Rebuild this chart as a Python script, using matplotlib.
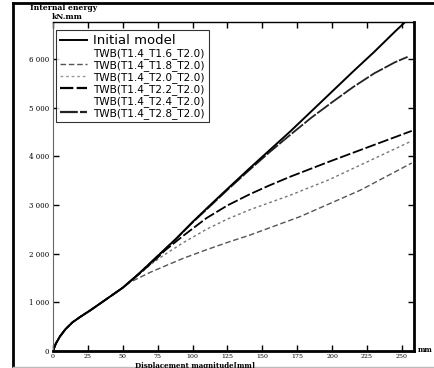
import matplotlib
matplotlib.use("Agg")
import matplotlib.pyplot as plt
from matplotlib.lines import Line2D

# ---- data ----
x_init = [0, 2, 5, 9, 14, 20, 27, 38, 50, 62, 75, 88, 100, 112, 125, 140, 155, 170, 185, 200, 215, 230, 245, 255]
y_init = [0, 150, 300, 450, 590, 710, 840, 1060, 1300, 1600, 1950, 2300, 2650, 2980, 3330, 3730, 4120, 4510, 4920, 5330, 5740, 6140, 6560, 6830]

x_t28 = [0, 2, 5, 9, 14, 20, 27, 38, 50, 62, 75, 88, 100, 112, 125, 140, 155, 170, 185, 200, 215, 230, 245, 254]
y_t28 = [0, 150, 300, 450, 590, 710, 840, 1060, 1300, 1600, 1950, 2300, 2640, 2960, 3310, 3700, 4080, 4440, 4790, 5110, 5420, 5700, 5930, 6040]

x_t22 = [0, 2, 5, 9, 14, 20, 27, 38, 50, 62, 75, 80, 93, 110, 125, 141, 155, 170, 198, 227, 257]
y_t22 = [0, 150, 300, 450, 590, 710, 840, 1060, 1300, 1590, 1920, 2060, 2360, 2730, 2990, 3220, 3400, 3580, 3890, 4200, 4520]

x_t20 = [0, 2, 5, 9, 14, 20, 27, 38, 50, 62, 70, 80, 93, 110, 125, 141, 170, 198, 227, 256]
y_t20 = [0, 150, 300, 450, 590, 710, 840, 1060, 1300, 1580, 1780, 1980, 2220, 2500, 2710, 2900, 3200, 3520, 3910, 4300]

x_t18 = [0, 2, 5, 9, 14, 20, 27, 38, 50, 55, 70, 93, 110, 125, 141, 177, 220, 257]
y_t18 = [0, 150, 300, 450, 590, 710, 840, 1060, 1300, 1410, 1620, 1900, 2080, 2230, 2380, 2760, 3300, 3860]

x_ticks = [0, 25, 50, 75, 100, 125, 150, 175, 200, 225, 250]
y_ticks = [0, 1000, 2000, 3000, 4000, 5000, 6000]
y_tick_labels = ["0", "1 000", "2 000", "3 000", "4 000", "5 000", "6 000"]

labels = ["Initial model", "TWB(T1.4_T1.6_T2.0)", "TWB(T1.4_T1.8_T2.0)",
          "TWB(T1.4_T2.0_T2.0)", "TWB(T1.4_T2.2_T2.0)", "TWB(T1.4_T2.4_T2.0)",
          "TWB(T1.4_T2.8_T2.0)"]

fig = plt.figure(figsize=(4.35, 3.68), dpi=100)
ax = fig.add_axes([53/435, 17/368, 361/435, 329/368])

ax.plot(x_t18, y_t18, color="#555555", lw=1.0, ls=(0, (4, 2)))
ax.plot(x_t20, y_t20, color="#777777", lw=1.0, ls=(0, (2, 2)))
ax.plot(x_t22, y_t22, color="black", lw=1.3, ls=(0, (6, 1.5)))
ax.plot(x_t28, y_t28, color="#222222", lw=1.3, ls=(0, (8, 1)))
ax.plot(x_init, y_init, color="black", lw=1.4)

ax.set_xlim(0, 258.6)
ax.set_ylim(0, 6756)
ax.set_xticks(x_ticks)
ax.set_xticklabels([str(v) for v in x_ticks], fontsize=4.5, family="DejaVu Serif")
ax.set_yticks(y_ticks)
ax.set_yticklabels(y_tick_labels, fontsize=5, family="DejaVu Serif")
ax.tick_params(axis="both", direction="in", length=4, width=1, pad=3,
               top=True, right=True)
ax.tick_params(axis="x", pad=2)

for side, lw, col in [("left", 0.8, "#666666"), ("right", 2.0, "black"),
                      ("bottom", 2.0, "black"), ("top", 1.0, "black")]:
    ax.spines[side].set_linewidth(lw)
    ax.spines[side].set_color(col)

handles = [
    Line2D([], [], color="black", lw=1.4),
    Line2D([], [], color="white", lw=1.0),
    Line2D([], [], color="#555555", lw=1.0, ls=(0, (4, 2))),
    Line2D([], [], color="#999999", lw=1.0, ls=(0, (2, 2))),
    Line2D([], [], color="black", lw=1.6, ls=(0, (6, 1.5))),
    Line2D([], [], color="white", lw=1.0),
    Line2D([], [], color="#222222", lw=1.6, ls=(0, (8, 1))),
]
leg = ax.legend(handles, labels, loc="upper left", bbox_to_anchor=(0.008, 0.975),
                fontsize=7.6, frameon=True, fancybox=False, handlelength=2.6,
                handletextpad=0.6, borderpad=0.35, labelspacing=0.1,
                borderaxespad=0.0)
leg.get_frame().set_edgecolor("black")
leg.get_frame().set_linewidth(0.8)
leg.get_texts()[0].set_fontsize(9.5)

fig.text(30/435, 1 - 8/368, "Internal energy", fontsize=5.5, family="DejaVu Serif",
         fontweight="bold", va="center", ha="left")
fig.text(52/435, 1 - 17/368, "kN.mm", fontsize=5.5, family="DejaVu Serif",
         fontweight="bold", va="center", ha="left")
fig.text(418/435, 1 - 350/368, "mm", fontsize=5, family="DejaVu Serif",
         fontweight="bold", va="center", ha="left")
fig.text(195/435, 1 - 365.5/368, "Displacement magnitude[mm]", fontsize=5,
         family="DejaVu Serif", fontweight="bold", va="center", ha="center")

# outer frame of the scan
fig.add_artist(Line2D([13/435, 433/435], [1 - 3/368, 1 - 3/368], color="black", lw=2,
                      transform=fig.transFigure))
fig.add_artist(Line2D([13/435, 13/435], [1 - 3/368, 1 - 366/368], color="black", lw=2,
                      transform=fig.transFigure))
fig.add_artist(Line2D([13/435, 435/435], [1 - 367/368, 1 - 367/368], color="#bbbbbb", lw=1,
                      transform=fig.transFigure))

fig.savefig("out.png", dpi=100)
